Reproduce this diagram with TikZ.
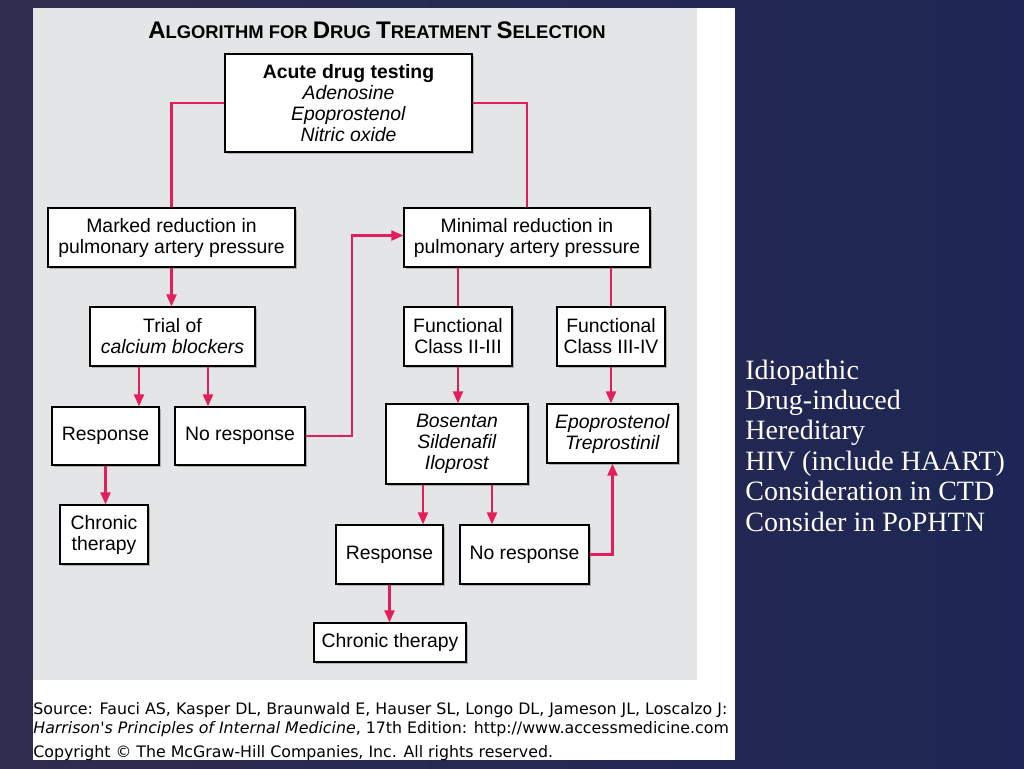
\documentclass[tikz,border=0pt]{standalone}
\usepackage{fontspec}
\setmainfont{Liberation Sans}
\newfontfamily\verd{DejaVu Sans}
\newfontfamily\serifx{Liberation Serif}
\usetikzlibrary{arrows.meta,shadows}
\definecolor{navyA}{RGB}{48,44,78}
\definecolor{navyB}{RGB}{29,38,84}
\definecolor{panelgray}{RGB}{227,229,231}
\definecolor{crim}{RGB}{228,30,92}
\tikzset{
  bx/.style={draw=black, line width=0.65pt, fill=white, inner sep=0pt, align=center,
    font=\fontsize{9.7}{10.5}\selectfont,
    drop shadow={shadow xshift=1.1pt, shadow yshift=-1.1pt, fill=black!40, opacity=0.7}},
  ln/.style={draw=crim, line width=1.1pt},
  ar/.style={ln, -{Triangle[length=6pt,width=5pt]}},
}
\begin{document}
\begin{tikzpicture}[x=0.5pt,y=-0.5pt]
\useasboundingbox (0,0) rectangle (1024,768);
\shade[left color=navyA, right color=navyB] (0,0) rectangle (1024,768);
% panel
\fill[white] (33,8) rectangle (735,760);
\fill[panelgray] (33,8) rectangle (697,680);
% title
\node[font=\bfseries] (title) at (377,30) {\fontsize{12}{12}\selectfont A\fontsize{9.2}{9.2}\selectfont LGORITHM FOR \fontsize{12}{12}\selectfont D\fontsize{9.2}{9.2}\selectfont RUG \fontsize{12}{12}\selectfont T\fontsize{9.2}{9.2}\selectfont REATMENT \fontsize{12}{12}\selectfont S\fontsize{9.2}{9.2}\selectfont ELECTION};
% boxes
\node[bx, minimum width=123.5pt, minimum height=49pt] (acute) at (348.5,103) {\textbf{Acute drug testing}\\\textit{Adenosine}\\\textit{Epoprostenol}\\\textit{Nitric oxide}};
\node[bx, minimum width=123.5pt, minimum height=29.5pt] (marked) at (171.5,237.5) {Marked reduction in\\pulmonary artery pressure};
\node[bx, minimum width=123pt, minimum height=29.5pt] (minimal) at (527,237.5) {Minimal reduction in\\pulmonary artery pressure};
\node[bx, minimum width=82.5pt, minimum height=29.5pt] (trial) at (172.5,336.5) {Trial of\\\textit{calcium blockers}};
\node[bx, minimum width=54pt, minimum height=29.5pt] (func2) at (458,336.5) {Functional\\Class II-III};
\node[bx, minimum width=54pt, minimum height=29.5pt] (func3) at (611,336.5) {Functional\\Class III-IV};
\node[bx, minimum width=53.5pt, minimum height=29pt] (respL) at (105.5,436) {Response};
\node[bx, minimum width=65pt, minimum height=29pt] (noL) at (240,436) {No response};
\node[bx, minimum width=71pt, minimum height=40pt] (bos) at (457,444) {\textit{Bosentan}\\\textit{Sildenafil}\\\textit{Iloprost}};
\node[bx, minimum width=65.5pt, minimum height=29.5pt] (epo) at (612.5,433.5) {\textit{Epoprostenol}\\\textit{Treprostinil}};
\node[bx, minimum width=44pt, minimum height=29.5pt] (chrL) at (104,534.5) {Chronic\\therapy};
\node[bx, minimum width=53.5pt, minimum height=29.5pt] (respR) at (389.5,554.5) {Response};
\node[bx, minimum width=64.5pt, minimum height=29.5pt] (noR) at (524.5,554.5) {No response};
\node[bx, minimum width=76pt, minimum height=19.5pt] (chrR) at (390,642.5) {Chronic therapy};
% connectors
\draw[ln] (acute.west) -| (marked.north);
\draw[ln] (acute.east) -| (minimal.north);
\draw[ar] (marked.south) -- (marked.south |- trial.north);
\draw[ar] (139,0 |- trial.south) -- (139,0 |- respL.north);
\draw[ar] (208,0 |- trial.south) -- (208,0 |- noL.north);
\draw[ar] (noL.east) -- (352,0 |- noL.east) |- ([yshift=1pt]minimal.west);
\draw[ln] (func2.north |- minimal.south) -- (func2.north);
\draw[ln] (func3.north |- minimal.south) -- (func3.north);
\draw[ar] (func2.south) -- (func2.south |- bos.north);
\draw[ar] (func3.south) -- (func3.south |- epo.north);
\draw[ar] (respL.south) -- (respL.south |- chrL.north);
\draw[ar] (423,0 |- bos.south) -- (423,0 |- respR.north);
\draw[ar] (492,0 |- bos.south) -- (492,0 |- noR.north);
\draw[ar] (noR.east) -| (epo.south);
\draw[ar] (respR.south) -- (respR.south |- chrR.north);
% source text
\begin{scope}
\clip (33,690) rectangle (735,760);
\node[anchor=base west, inner sep=0pt, font=\verd\fontsize{7.9}{7.9}\selectfont] (src1) at (33,714) {Source: Fauci AS, Kasper DL, Braunwald E, Hauser SL, Longo DL, Jameson JL, Loscalzo J:};
\node[anchor=base west, inner sep=0pt, font=\verd\fontsize{7.9}{7.9}\selectfont] (src2) at (33,733) {\textit{Harrison's Principles of Internal Medicine}, 17th Edition: http://www.accessmedicine.com};
\node[anchor=base west, inner sep=0pt, font=\verd\fontsize{7.9}{7.9}\selectfont] (src3) at (33,757) {Copyright © The McGraw-Hill Companies, Inc. All rights reserved.};
\end{scope}
% right side text
\node[anchor=base west, inner sep=0pt, align=left, text=white, font=\serifx\fontsize{14}{15.2}\selectfont] (list) at (745,531) {Idiopathic\\Drug-induced\\Hereditary\\HIV (include HAART)\\Consideration in CTD\\Consider in PoPHTN};
\end{tikzpicture}
\end{document}
